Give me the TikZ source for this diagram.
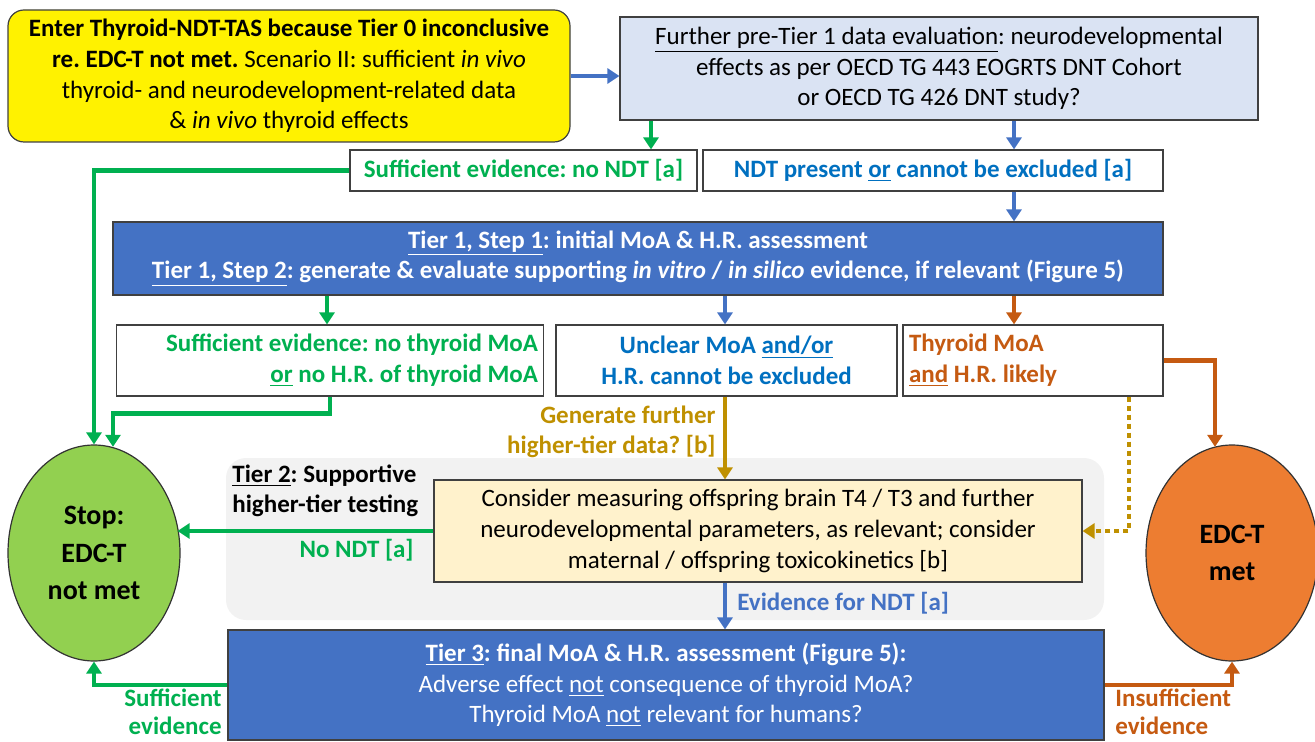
\documentclass[tikz,border=0pt]{standalone}
\usepackage{fontspec}
\setmainfont{Carlito}
\frenchspacing
\usetikzlibrary{arrows.meta,shapes.geometric}
\definecolor{grn}{HTML}{00B050}
\definecolor{txtblue}{HTML}{0070C0}
\definecolor{arrblue}{HTML}{4472C4}
\definecolor{orng}{HTML}{C55A11}
\definecolor{gold}{HTML}{BF9000}
\definecolor{paleblue}{HTML}{DAE3F3}
\definecolor{creamy}{HTML}{FFF2CC}
\definecolor{stopgreen}{HTML}{92D050}
\definecolor{metorange}{HTML}{ED7D31}
\definecolor{bggray}{HTML}{F2F2F2}
\begin{document}
\begin{tikzpicture}[x=0.5pt,y=-0.5pt,
		font=\fontsize{12.5}{15.3}\selectfont,
		bold/.style={font=\fontsize{12.5}{15.3}\selectfont\bfseries},
		box/.style={draw=black!75,line width=0.6pt,fill=white,inner sep=2pt,align=center},
		tierbox/.style={box,fill=arrblue,text=white},
		endpoint/.style={ellipse,draw=black!80,line width=0.6pt,minimum width=86pt,minimum height=108pt,inner sep=0pt,align=center,font=\fontsize{14}{18.8}\selectfont\bfseries},
		arr/.style={line width=2.2pt,-{Triangle[width=7.5pt,length=6pt]}},
		garr/.style={arr,grn},
		barr/.style={arr,arrblue},
		oarr/.style={arr,orng},
		yarr/.style={arr,gold}]
	\useasboundingbox (0,0) rectangle (1315,742);
	\fill[bggray,rounded corners=10pt] (226,458) rectangle (1104,620);

	\node[box,fill=yellow,rounded corners=8pt,minimum width=281pt,minimum height=66pt] (enter) at (289,76)
		{\textbf{Enter Thyroid-NDT-TAS because Tier 0 inconclusive}\\\textbf{re. EDC-T not met.} Scenario II: sufficient \textit{in vivo}\\thyroid- and neurodevelopment-related data\\\& \textit{in vivo} thyroid effects};
	\node[box,fill=paleblue,minimum width=319pt,minimum height=51.5pt] (pre) at (939,68.5)
		{\underline{Further pre-Tier 1 data evaluation}: neurodevelopmental\\effects as per OECD TG 443 EOGRTS DNT Cohort\\or OECD TG 426 DNT study?};
	\node[box,bold,text=grn,minimum width=173.5pt,minimum height=20.5pt] (nondt) at (523.5,170.5)
		{Sufficient evidence: no NDT [a]};
	\node[box,bold,text=txtblue,minimum width=230pt,minimum height=20.5pt] (ndt) at (933,170.5)
		{NDT present \underline{or} cannot be excluded [a]};
	\node[tierbox,bold,minimum width=525pt,minimum height=36.5pt] (tier1) at (638,258.5)
		{\underline{Tier 1, Step 1}: initial MoA \& H.R. assessment\\\underline{Tier 1, Step 2}: generate \& evaluate supporting \textit{in vitro} / \textit{in silico} evidence, if relevant (Figure 5)};
	\node[box,bold,text=grn,align=flush right,text width=208pt,minimum width=213.5pt,minimum height=35.5pt] (nomoa) at (330,360.5)
		{Sufficient evidence: no thyroid MoA\\\underline{or} no H.R. of thyroid MoA};
	\node[box,bold,text=txtblue,minimum width=170.5pt,minimum height=35.5pt] (unclear) at (726.5,360.5)
		{Unclear MoA \underline{and/or}\\H.R. cannot be excluded};
	\node[box,bold,text=orng,align=flush left,text width=124pt,minimum width=130pt,minimum height=35.5pt] (likely) at (1033,360.5)
		{Thyroid MoA\\\underline{and} H.R. likely};
	\node[box,fill=creamy,minimum width=324pt,minimum height=51pt] (consider) at (758,531)
		{Consider measuring offspring brain T4 / T3 and further\\neurodevelopmental parameters, as relevant; consider\\maternal / offspring toxicokinetics [b]};
	\node[tierbox,minimum width=438pt,minimum height=55pt] (tier3) at (666,685)
		{\textbf{\underline{Tier 3}: final MoA \& H.R. assessment (Figure 5):}\\Adverse effect \underline{not} consequence of thyroid MoA?\\Thyroid MoA \underline{not} relevant for humans?};
	\node[endpoint,fill=stopgreen] (stop) at (94,553) {Stop:\\EDC-T\\not met};
	\node[endpoint,fill=metorange] (met) at (1232,553) {EDC-T\\met};

	\node[bold,anchor=west,align=flush left,inner sep=1pt] (tier2lbl) at (230,491) {\underline{Tier 2}: Supportive\\higher-tier testing};
	\node[bold,anchor=east,text=grn,inner sep=1pt] (nondtlbl) at (416,550) {No NDT [a]};
	\node[bold,anchor=east,align=flush right,text=gold,inner sep=1pt] (genlbl) at (718,432) {Generate further\\higher-tier data? [b]};
	\node[bold,anchor=west,text=arrblue,inner sep=1pt] (evlbl) at (735,603) {Evidence for NDT [a]};
	\node[anchor=east,align=flush right,text=grn,inner sep=0pt,font=\fontsize{12.5}{14}\selectfont\bfseries] (suflbl) at (222,712) {Sufficient\\evidence};
	\node[anchor=west,align=flush left,text=orng,inner sep=0pt,font=\fontsize{12.5}{14}\selectfont\bfseries] (insuflbl) at (1115,712) {Insufficient\\evidence};

	\coordinate (cg) at (651,0);
	\coordinate (cb) at (1014,0);
	\coordinate (cn) at (327,0);
	\coordinate (cm) at (725,0);
	\coordinate (cd) at (1129,0);

	\draw[barr] (enter.east) -- (pre.west |- enter.east);
	\draw[garr] (pre.south -| cg) -- (nondt.north -| cg);
	\draw[barr] (pre.south -| cb) -- (ndt.north -| cb);
	\draw[barr] (ndt.south -| cb) -- (tier1.north -| cb);
	\draw[garr] (tier1.south -| cn) -- (nomoa.north -| cn);
	\draw[barr] (tier1.south -| cm) -- (unclear.north -| cm);
	\draw[oarr] (tier1.south -| cb) -- (likely.north -| cb);
	\draw[garr] (nondt.west) -| (stop.north);
	\draw[garr] (nomoa.south) -- ++(0,17) -| ([xshift=9.5pt,yshift=-1.2pt]stop.north);
	\draw[oarr] (likely.east) -| ([xshift=-8.5pt,yshift=-1.2pt]met.north);
	\draw[yarr] (unclear.south -| cm) -- (consider.north -| cm);
	\draw[yarr,dash pattern=on 2.5pt off 2pt,line cap=butt] (likely.south -| cd) |- (consider.east);
	\draw[garr] (consider.west) -- ([xshift=-1.5pt]stop.east |- consider.west);
	\draw[barr] (consider.south -| cm) -- (tier3.north -| cm);
	\draw[garr] (tier3.west) -| (stop.south);
	\draw[oarr] (tier3.east) -| (met.south);
\end{tikzpicture}
\end{document}
